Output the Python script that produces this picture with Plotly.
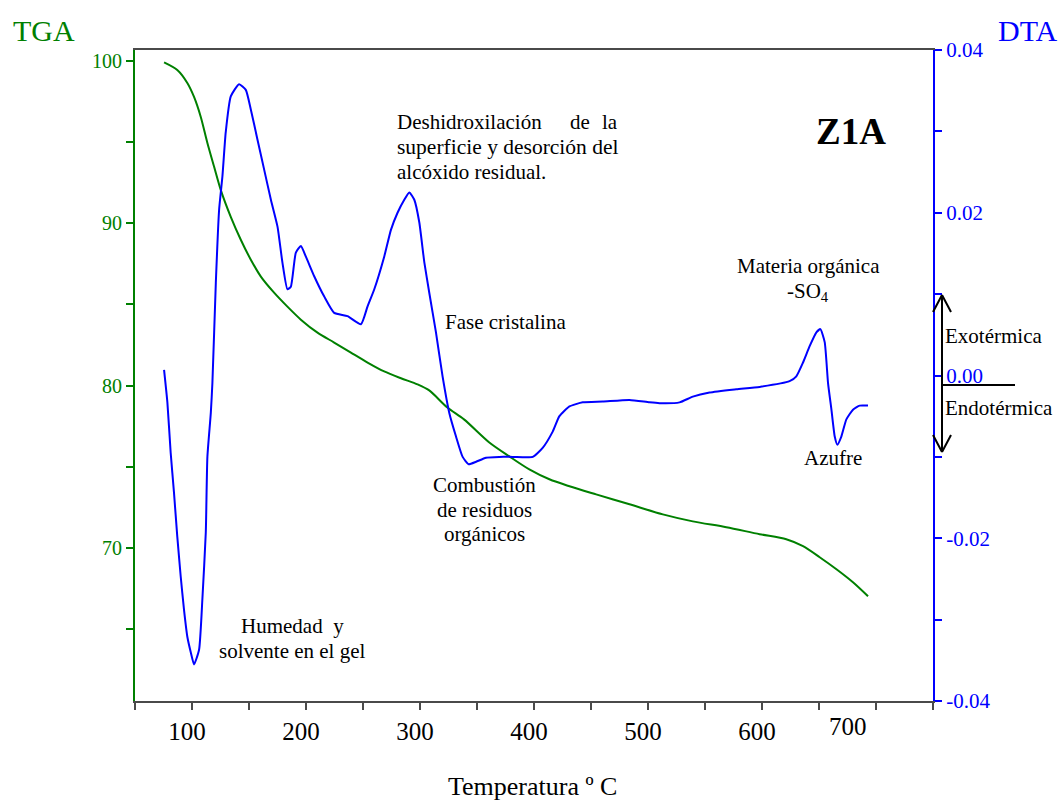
import plotly.graph_objects as go

# ---- data -------------------------------------------------------------
# DTA signal (temperature in °C, heat-flow signal)
dta_temp = [75.5, 78.4, 81.3, 84.2, 87.1, 90.1, 93.0, 95.9, 98.9, 101.8,
            106.2, 109.1, 112.1, 113.5, 116.5, 117.9, 120.9, 123.8, 126.7, 129.6,
            134.0, 141.3, 147.2, 151.6, 157.4, 163.3, 169.2, 175.0, 179.3, 183.7,
            186.7, 191.1, 195.5, 199.9, 207.2, 216.0, 224.7, 236.4, 248.2, 254.0,
            259.9, 268.6, 274.5, 280.3, 286.2, 290.6, 295.0, 299.4, 303.8, 308.1,
            314.0, 319.8, 325.7, 331.6, 337.4, 342.7, 349.2, 357.9, 369.6, 381.3,
            398.9, 407.6, 416.4, 422.3, 431.1, 442.8, 460.3, 483.8, 501.3, 510.1,
            527.7, 539.3, 554.0, 577.4, 597.9, 624.2, 630.1, 636.0, 641.8, 647.7,
            651.2, 655.0, 657.9, 660.9, 663.8, 666.1, 669.6, 674.0, 679.8, 685.7,
            693.0]
dta_val = [0.0007, -0.0033, -0.0095, -0.0144, -0.0198, -0.0247, -0.0288, -0.0321, -0.0340, -0.0355,
           -0.0337, -0.0275, -0.0193, -0.0100, -0.0046, -0.0009, 0.0114, 0.0204, 0.0245, 0.0299,
           0.0343, 0.0358, 0.0351, 0.0327, 0.0290, 0.0253, 0.0216, 0.0183, 0.0139, 0.0106,
           0.0109, 0.0151, 0.0159, 0.0146, 0.0122, 0.0097, 0.0077, 0.0073, 0.0063, 0.0085,
           0.0106, 0.0146, 0.0179, 0.0200, 0.0216, 0.0225, 0.0216, 0.0188, 0.0139, 0.0102,
           0.0053, -0.0001, -0.0046, -0.0075, -0.0100, -0.0109, -0.0106, -0.0101, -0.0100, -0.0100,
           -0.0100, -0.0089, -0.0069, -0.0050, -0.0038, -0.0033, -0.0032, -0.0030, -0.0033, -0.0034,
           -0.0033, -0.0026, -0.0021, -0.0017, -0.0014, -0.0007, -0.0001, 0.0016, 0.0036, 0.0053,
           0.0057, 0.0041, -0.0009, -0.0042, -0.0075, -0.0085, -0.0075, -0.0054, -0.0042, -0.0037,
           -0.0037]

# TGA mass (%)
tga_temp = [75.5, 87.1, 95.9, 101.8, 107.7, 113.5, 119.4, 125.2, 134.0, 142.8,
            151.6, 160.4, 172.0, 183.7, 195.5, 210.1, 224.7, 239.4, 254.0, 268.6,
            283.3, 297.9, 308.1, 324.0, 338.6, 360.8, 378.4, 395.9, 413.5, 431.1,
            454.5, 483.8, 513.0, 539.3, 568.7, 597.9, 621.3, 636.0, 650.6, 665.3,
            679.8, 693.0]
tga_val = [99.9, 99.43, 98.63, 97.77, 96.54, 94.94, 93.47, 92.05, 90.39, 88.98,
           87.75, 86.71, 85.72, 84.86, 84.06, 83.26, 82.65, 82.03, 81.42, 80.87,
           80.45, 80.07, 79.70, 78.65, 77.92, 76.50, 75.64, 74.84, 74.23, 73.80,
           73.30, 72.69, 72.07, 71.64, 71.28, 70.85, 70.54, 70.11, 69.43, 68.69,
           67.89, 67.03]

# axis ticks
x_tickvals = list(range(50, 751, 50))
x_ticktext = ["", "100", "", "200", "", "300", "", "400", "", "500", "", "600", "", "", ""]
tga_tickvals = [65, 70, 75, 80, 85, 90, 95, 100]
tga_ticktext = ["", "70", "", "80", "", "90", "", "100"]
dta_tickvals = [-0.04, -0.03, -0.02, -0.01, 0.0, 0.01, 0.02, 0.03, 0.04]
dta_ticktext = ["-0.04", "", "-0.02", "", "0.00", "", "0.02", "", "0.04"]

# ---- style ------------------------------------------------------------
FONT = "Liberation Serif"
GREEN = "#008000"
BLUE = "#0000ff"
AXIS_GREY = "#4a4a4a"

# plot-area geometry (pixels)
L, R, T, B = 135, 933, 50, 701
W, H = R - L, B - T


def ax(px):
    return (px - L) / W


def ay(py):
    return (B - py) / H


fig = go.Figure()
fig.add_trace(go.Scatter(x=tga_temp, y=tga_val, mode="lines",
                         line=dict(color=GREEN, width=2, shape="spline", smoothing=0.8),
                         yaxis="y", name="TGA", showlegend=False))
fig.add_trace(go.Scatter(x=dta_temp, y=dta_val, mode="lines",
                         line=dict(color=BLUE, width=2, shape="spline", smoothing=0.5),
                         yaxis="y2", name="DTA", showlegend=False))

ann = []


def text(s, px, py, size=21, xanchor="center", color="black", bold=False):
    if bold:
        s = "<b>" + s + "</b>"
    ann.append(dict(text=s, x=ax(px), y=ay(py), xref="paper", yref="paper",
                    xanchor=xanchor, yanchor="middle", showarrow=False,
                    font=dict(family=FONT, size=size, color=color)))


# axis titles
text("TGA", 44, 30, size=30, color=GREEN)
text("DTA", 1028, 30, size=30, color=BLUE)
text("Temperatura º C", 532, 786, size=26)
# last x tick label
text("700", 848, 726, size=25)

# sample label
text("Z1A", 851, 131, size=37, bold=True)

# event labels
text("Deshidroxilación", 395, 122, xanchor="left")
text("de", 579.5, 122)
text("la", 620, 122, xanchor="right")
text("superficie y desorción del", 395, 147, size=21.5, xanchor="left")
text("alcóxido residual.", 395, 172, xanchor="left")
text("Fase cristalina", 443, 322, xanchor="left")
text("Combustión", 484, 485)
text("de residuos", 484, 510)
text("orgánicos", 484, 534)
text("Humedad&nbsp;&nbsp;y", 292, 626)
text("solvente en el gel", 292, 651)
text("Materia orgánica", 808, 266)
text("-SO<sub>4</sub>", 808, 292)
text("Azufre", 833, 458)
text("Exotérmica", 943, 336, xanchor="left")
text("Endotérmica", 943, 408, xanchor="left")

# exo / endo double arrow with open heads and baseline
shapes = []


def seg(x0, y0, x1, y1):
    shapes.append(dict(type="line", xref="paper", yref="paper",
                       x0=ax(x0), y0=ay(y0), x1=ax(x1), y1=ay(y1),
                       line=dict(color="black", width=2)))


seg(942, 295, 942, 452)
seg(942, 295, 933, 312)
seg(942, 295, 951, 312)
seg(942, 452, 933, 435)
seg(942, 452, 951, 435)
seg(942, 385, 1015, 385)

fig.update_layout(
    width=1062, height=800,
    margin=dict(l=L, r=1062 - R, t=T, b=800 - B),
    paper_bgcolor="white", plot_bgcolor="white",
    annotations=ann, shapes=shapes,
    xaxis=dict(range=[50, 750], tickmode="array", tickvals=x_tickvals, ticktext=x_ticktext,
               showline=True, linecolor=AXIS_GREY, linewidth=2, mirror=True,
               ticks="outside", ticklen=7, tickwidth=1.5, tickcolor=AXIS_GREY,
               tickfont=dict(family=FONT, size=25, color="black"),
               ticklabelshift=-5,
               showgrid=False, zeroline=False),
    yaxis=dict(range=[60.58, 100.66], tickmode="array", tickvals=tga_tickvals, ticktext=tga_ticktext,
               showline=True, linecolor=GREEN, linewidth=2,
               ticks="outside", ticklen=7, tickwidth=2, tickcolor=GREEN,
               tickfont=dict(family=FONT, size=20, color=GREEN),
               showgrid=False, zeroline=False),
    yaxis2=dict(range=[-0.04, 0.04], overlaying="y", side="right",
                tickmode="array", tickvals=dta_tickvals, ticktext=dta_ticktext,
                showline=True, linecolor=BLUE, linewidth=2,
                ticks="outside", ticklen=7, tickwidth=2, tickcolor=BLUE,
                tickfont=dict(family=FONT, size=21, color=BLUE),
                showgrid=False, zeroline=False),
)

fig.write_html("out.html")
